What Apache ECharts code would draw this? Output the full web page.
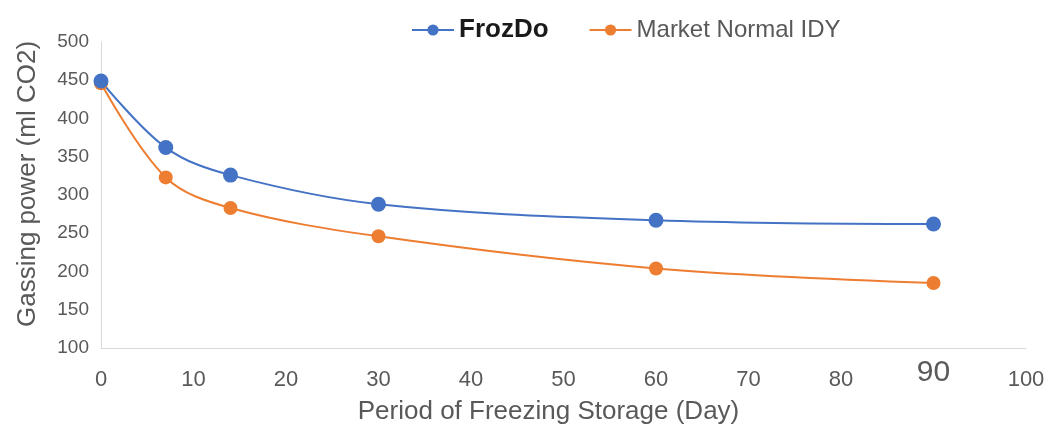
<!DOCTYPE html>
<html><head><meta charset="utf-8">
<script src="https://cdn.jsdelivr.net/npm/echarts@6/dist/echarts.min.js"></script>
<style>html,body{margin:0;padding:0;background:#fff}#c{width:1052px;height:430px}</style>
</head><body><div id="c"></div>
<script>
const days = [0, 7, 14, 30, 60, 90];
const frozdo = [449, 362, 326, 288, 267, 262];
const marketIDY = [446, 323, 283, 246, 204, 185];
const seriesNames = ['FrozDo', 'Market Normal IDY'];

const FONT = "'Liberation Sans', Arial, sans-serif";
const chart = echarts.init(document.getElementById('c'));
const pair = (ys) => days.map((d, i) => [d, ys[i]]);
chart.setOption({
  animation: false,
  backgroundColor: '#fff',
  grid: {left: 101, right: 26, top: 42, bottom: 82, outerBoundsMode: 'none', containLabel: false},
  legend: {
    top: 12, left: 406, itemWidth: 42, itemHeight: 14, itemGap: 40,
    data: [
      {name: seriesNames[0], textStyle: {color: '#1a1a1a', fontWeight: 'bold', fontSize: 26, fontFamily: FONT}},
      {name: seriesNames[1], textStyle: {color: '#595959', fontSize: 24, fontFamily: FONT}}
    ]
  },
  xAxis: {
    type: 'value', min: 0, max: 100, interval: 10,
    name: 'Period of Freezing Storage (Day)', nameLocation: 'middle', nameGap: 51,
    nameTextStyle: {color: '#595959', fontSize: 26, fontFamily: FONT, padding: [0, 30, 0, 0]},
    axisLine: {show: true, lineStyle: {color: '#d9d9d9', width: 1}},
    axisTick: {show: false},
    splitLine: {show: false},
    axisLabel: {color: '#595959', fontFamily: FONT, margin: 10,
      formatter: v => v === 90 ? '{big|90}' : '{n|' + v + '}',
      rich: {
        big: {fontSize: 30, color: '#595959', fontFamily: FONT},
        n: {fontSize: 22, color: '#595959', fontFamily: FONT, padding: [11, 0, 0, 0]}
      }}
  },
  yAxis: {
    type: 'value', min: 100, max: 500, interval: 50,
    name: 'Gassing power (ml CO2)', nameLocation: 'middle', nameGap: 60,
    nameTextStyle: {color: '#595959', fontSize: 26, fontFamily: FONT, padding: [0, 0, 0, 22]},
    axisLine: {show: true, lineStyle: {color: '#d9d9d9', width: 1}},
    axisTick: {show: false},
    splitLine: {show: false},
    axisLabel: {color: '#595959', fontSize: 19, fontFamily: FONT, margin: 12}
  },
  series: [
    {name: seriesNames[1], type: 'line', smooth: 0.35, data: pair(marketIDY),
      symbol: 'circle', symbolSize: 14, itemStyle: {color: '#ED7D31'}, lineStyle: {color: '#ED7D31', width: 2}},
    {name: seriesNames[0], type: 'line', smooth: 0.35, data: pair(frozdo),
      symbol: 'circle', symbolSize: 15, itemStyle: {color: '#4472C4'}, lineStyle: {color: '#4472C4', width: 2}}
  ]
});
</script></body></html>
